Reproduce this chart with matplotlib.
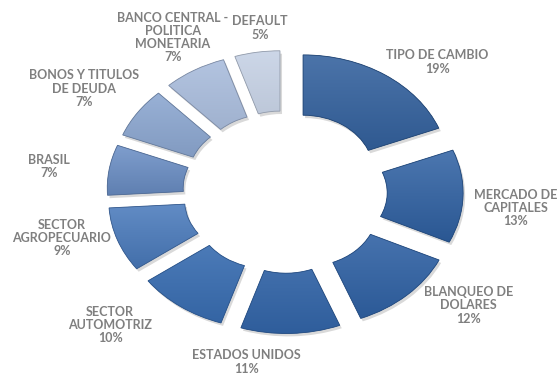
import matplotlib
matplotlib.use("Agg")
import matplotlib.pyplot as plt
import matplotlib.colors as mcolors
from matplotlib.patches import PathPatch
from matplotlib.transforms import Affine2D, offset_copy
import numpy as np

categories = ["TIPO DE CAMBIO", "MERCADO DE\nCAPITALES", "BLANQUEO DE\nDOLARES",
              "ESTADOS UNIDOS", "SECTOR\nAUTOMOTRIZ", "SECTOR\nAGROPECUARIO",
              "BRASIL", "BONOS Y TITULOS\nDE DEUDA", "BANCO CENTRAL -\nPOLITICA\nMONETARIA",
              "DEFAULT"]
values = [19, 13, 12, 11, 10, 9, 7, 7, 7, 5]
colors = ["#2e5d9b", "#2f61a3", "#3164a8", "#3468ad", "#3a70b6", "#4a7bbd",
          "#6a8ec5", "#88a4cf", "#a6badb", "#c4d0e4"]

# layout / style (pixels)
CX, CY = 285, 192          # pie centre
SX, SY = 146, 116          # pixels per data unit (chart is stretched horizontally)
LRX, LRY = 250, 168        # label ellipse radii
label_nudge = [(12, 9), (-19, 11), (12, -9), (-46, 2), (-28, -3),
               (12, -11), (11, 1), (6, -9), (15, -10), (14, 2)]  # (right, down)

fig = plt.figure(figsize=(5.58, 3.73), dpi=100)
ax = fig.add_axes([0, 0, 1, 1])
labels = [f"{c}\n{v}%" for c, v in zip(categories, values)]
wedges, texts = ax.pie(values, labels=labels, colors=colors, startangle=90,
                       counterclock=False, explode=[0.22] * len(values),
                       labeldistance=1.3,
                       wedgeprops=dict(width=0.52, edgecolor="none"),
                       textprops=dict(fontsize=9, fontweight="bold", color="#7f7f7f",
                                      family="Lato", linespacing=1.12))
ax.set_aspect("auto")
ax.axis("off")

for w, base in zip(wedges, colors):
    rgb = np.array(mcolors.to_rgb(base))
    path = w.get_path()
    ptr = w.get_patch_transform()
    verts = ptr.transform(path.vertices)
    x0, y0 = verts.min(axis=0)
    x1, y1 = verts.max(axis=0)
    sh = PathPatch(path, transform=ptr + Affine2D().translate(0.014, -0.025) + ax.transData,
                   facecolor="#000000", alpha=0.15, edgecolor="none", zorder=0.5)
    ax.add_patch(sh)
    light = np.clip(rgb + (1 - rgb) * 0.14, 0, 1)
    dark = rgb * 0.9
    t = np.linspace(0, 1, 64)[:, None]
    grad = light[None, :] * (1 - t) + dark[None, :] * t
    img = np.repeat(grad[:, None, :], 2, axis=1)
    im = ax.imshow(img, extent=(x0, x1, y0, y1), origin="upper", aspect="auto",
                   zorder=1.1, interpolation="bilinear")
    im.set_clip_path(w)
    edge = PathPatch(path, transform=ptr + ax.transData, facecolor="none",
                     edgecolor=tuple(rgb * 0.75), linewidth=0.6, zorder=1.2)
    ax.add_patch(edge)

# labels: on an ellipse at each wedge's mid angle, then nudged
for w, t, (dx, dy) in zip(wedges, texts, label_nudge):
    th = np.deg2rad((w.theta1 + w.theta2) / 2)
    t.set_position((LRX / SX * np.cos(th), LRY / SY * np.sin(th)))
    t.set_transform(offset_copy(ax.transData, fig=fig, x=dx, y=-dy, units="dots"))
    t.set_ha("center")
    t.set_va("center")

ax.set_xlim(-CX / SX, (558 - CX) / SX)
ax.set_ylim(-(373 - CY) / SY, CY / SY)
fig.savefig("out.png", dpi=100)
